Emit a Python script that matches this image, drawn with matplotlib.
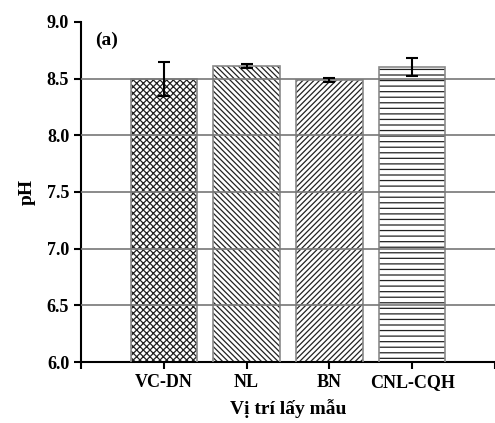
import matplotlib.pyplot as plt

# data
sites = ["VC-DN", "NL", "BN", "CNL-CQH"]
ph_mean = [8.50, 8.61, 8.49, 8.60]
ph_err = [0.15, 0.02, 0.02, 0.08]
hatches = ["xxxxx", "\\" * 6, "/" * 6, "---"]

plt.rcParams["font.family"] = ["Liberation Serif", "DejaVu Serif"]
plt.rcParams["font.weight"] = "bold"
plt.rcParams["hatch.linewidth"] = 0.9

fig = plt.figure(figsize=(4.95, 4.23), dpi=100)
ax = fig.add_axes([0.1636, 0.1442, 0.8364, 0.8038])

x = list(range(1, len(sites) + 1))
# hatch layer, then gray outline
ax.bar(x, ph_mean, width=0.8, bottom=0, color="white", edgecolor="#222222",
       linewidth=0, hatch=hatches, zorder=2)
ax.bar(x, ph_mean, width=0.8, bottom=0, fill=False, edgecolor="#8a8a8a",
       linewidth=1.2, zorder=3)
ax.errorbar(x, ph_mean, yerr=ph_err, fmt="none", ecolor="black",
            elinewidth=1.5, capsize=4, capthick=1.5, zorder=5)

# horizontal grid lines over the bars
for yv in [6.5, 7.0, 7.5, 8.0, 8.5]:
    ax.axhline(yv, color="#777777", linewidth=1.2, zorder=4)

ax.set_xlim(0, 5)
ax.set_ylim(6.0, 9.0)
ax.set_xticks([0, 1, 2, 3, 4, 5])
ax.set_xticklabels([""] + sites + [""])
ax.set_yticks([6.0, 6.5, 7.0, 7.5, 8.0, 8.5, 9.0])
ax.set_yticklabels([f"{v:.1f}" for v in [6.0, 6.5, 7.0, 7.5, 8.0, 8.5, 9.0]])
ax.tick_params(direction="out", length=5, width=1.5, labelsize=13)

for s in ["top", "right"]:
    ax.spines[s].set_visible(False)
for s in ["left", "bottom"]:
    ax.spines[s].set_linewidth(1.5)

ax.set_ylabel("pH", fontsize=14, fontweight="bold", labelpad=8)
ax.set_xlabel("Vị trí lấy mẫu", fontsize=14, fontweight="bold", labelpad=6)
ax.text(0.17, 8.8, "(a)", fontsize=14, fontweight="bold")

fig.savefig("out.png", dpi=100)
